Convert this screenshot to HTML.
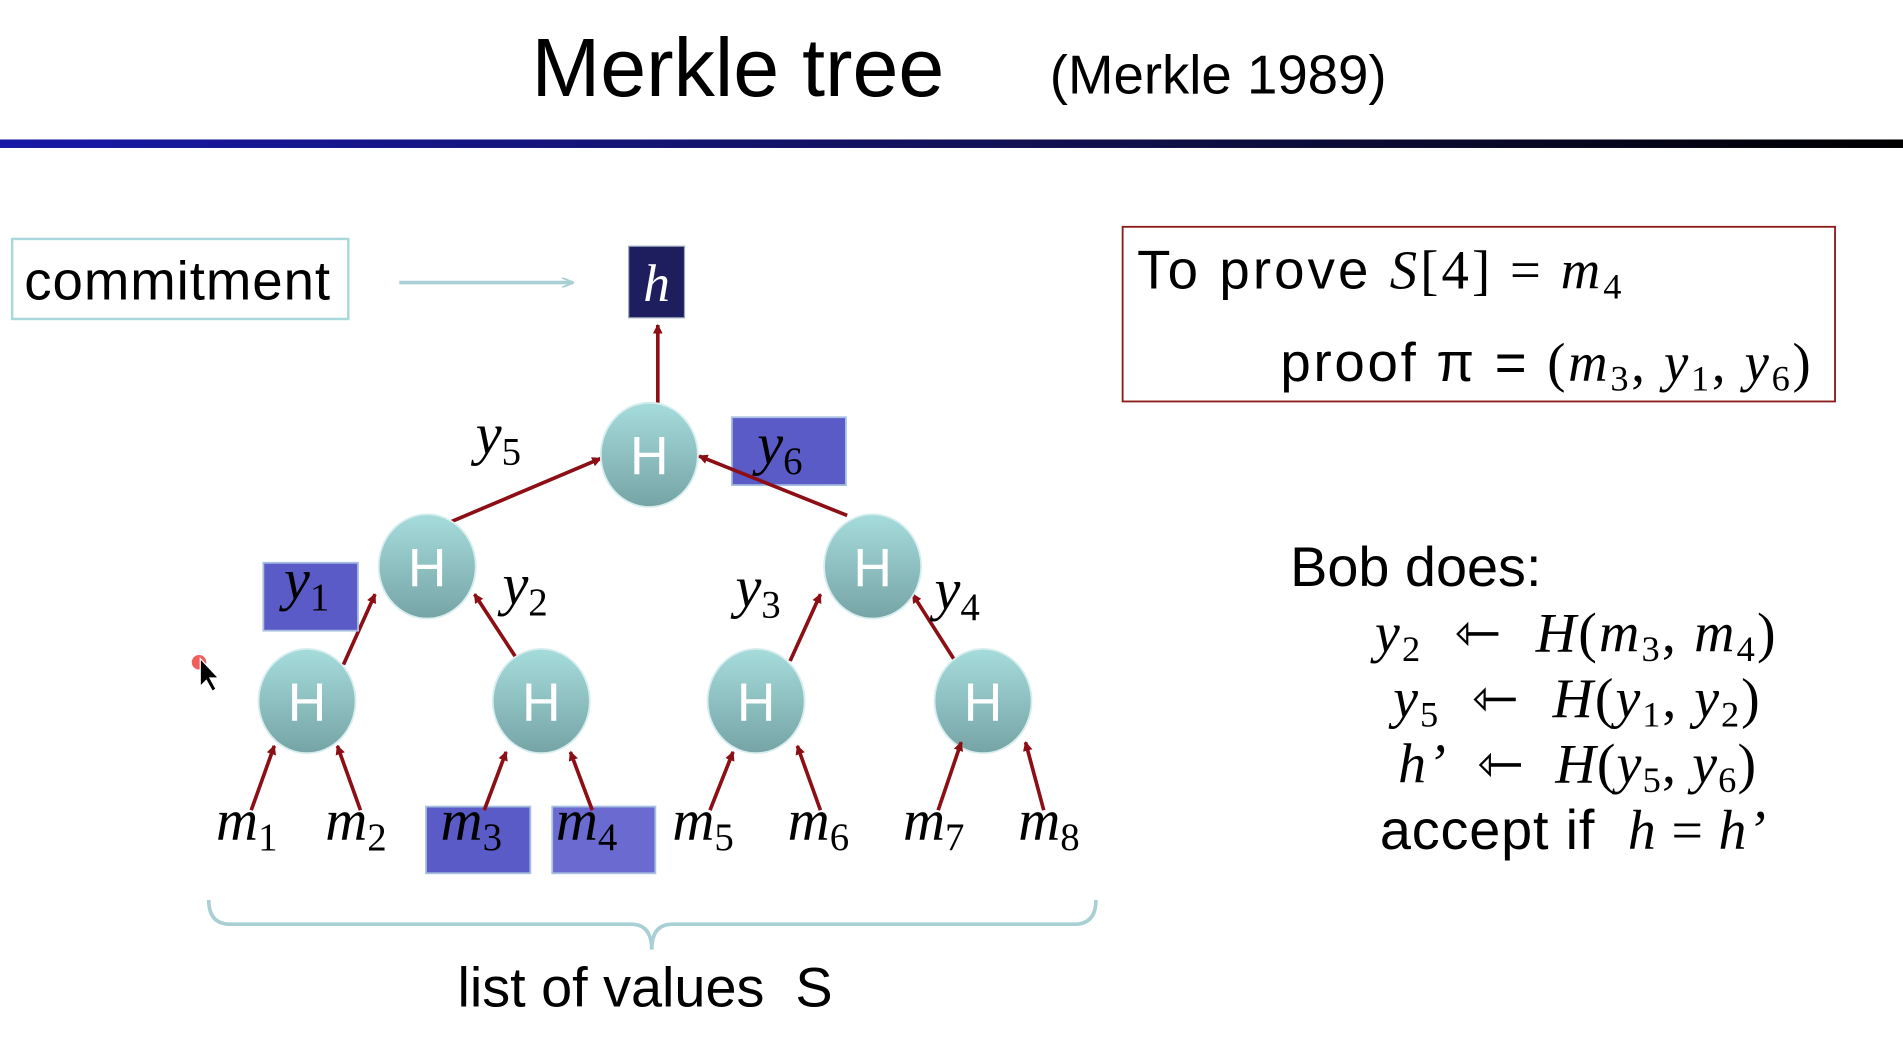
<!DOCTYPE html>
<html><head><meta charset="utf-8"><style>
html,body{margin:0;padding:0;background:#fff;}
svg{display:block;}
.s{font-family:"Liberation Sans",sans-serif;}
.m{font-family:"Liberation Serif",serif;font-style:italic;}
.n{font-family:"Liberation Serif",serif;font-style:normal;}
</style></head><body>
<svg width="1903" height="1037" viewBox="0 0 1568 855" preserveAspectRatio="none" xmlns="http://www.w3.org/2000/svg">
<defs>
<linearGradient id="bar" x1="0" x2="1" y1="0" y2="0"><stop offset="0" stop-color="#1818a8"/><stop offset="0.6" stop-color="#10104a"/><stop offset="1" stop-color="#000"/></linearGradient>
<linearGradient id="hg" x1="0" x2="0" y1="0" y2="1"><stop offset="0" stop-color="#a6dcdc"/><stop offset="1" stop-color="#76a4a6"/></linearGradient>
<marker id="ar" markerWidth="8" markerHeight="8" refX="7" refY="4" orient="auto" markerUnits="userSpaceOnUse"><path d="M0,0 L8,4 L0,8 Z" fill="#8b0f14"/></marker>
<marker id="at" markerWidth="10" markerHeight="8" refX="9" refY="4" orient="auto" markerUnits="userSpaceOnUse"><path d="M0,0 L10,4 L0,8" fill="none" stroke="#a8d0d4" stroke-width="1.5"/></marker>
</defs>
<text x="608" y="79" font-size="68" text-anchor="middle" class="s">Merkle tree</text>
<text x="865" y="77" font-size="45" class="s">(Merkle 1989)</text>
<rect x="0" y="115" width="1568" height="7" fill="url(#bar)"/>

<rect x="10" y="197" width="277" height="66" fill="none" stroke="#a8d8dc" stroke-width="2"/>
<text x="20" y="247" font-size="45" class="s" textLength="252">commitment</text>
<line x1="329" y1="233" x2="472" y2="233" stroke="#a8d0d4" stroke-width="3" marker-end="url(#at)"/>
<rect x="518" y="203" width="46" height="59" fill="#1e1e5e" stroke="#9ab" stroke-width="1"/>
<text x="541" y="248" font-size="44" fill="#fff" text-anchor="middle" class="m">h</text>

<g stroke="#8b0f14" stroke-width="3" marker-end="url(#ar)">
<line x1="542" y1="333" x2="542" y2="268"/>
<line x1="372" y1="430" x2="495" y2="378"/>
<line x1="283" y1="548" x2="309" y2="490"/>
<line x1="427" y1="545" x2="391" y2="490"/>
<line x1="651" y1="545" x2="676" y2="490"/>
<line x1="787" y1="545" x2="752" y2="490"/>
</g>

<rect x="603" y="344" width="94" height="56" fill="#5b5bc8" stroke="#a8c0e0" stroke-width="1.5"/>
<rect x="217" y="464" width="78" height="56" fill="#5b5bc8" stroke="#a8c0e0" stroke-width="1.5"/>
<rect x="351" y="665" width="86" height="55" fill="#5b5bc8" stroke="#a8c0e0" stroke-width="1.5"/>
<rect x="455" y="665" width="85" height="55" fill="#6a6ad0" stroke="#a8c0e0" stroke-width="1.5"/>
<line x1="698" y1="425" x2="576" y2="376" stroke="#8b0f14" stroke-width="3" marker-end="url(#ar)"/>

<g fill="url(#hg)" stroke="#d8eeee" stroke-width="1.5">
<ellipse cx="535" cy="375" rx="40" ry="43"/>
<ellipse cx="352" cy="467" rx="40" ry="43"/>
<ellipse cx="719" cy="467" rx="40" ry="43"/>
<ellipse cx="253" cy="578" rx="40" ry="43"/>
<ellipse cx="446" cy="578" rx="40" ry="43"/>
<ellipse cx="623" cy="578" rx="40" ry="43"/>
<ellipse cx="810" cy="578" rx="40" ry="43"/>
</g>
<g font-size="44" fill="#fff" text-anchor="middle" class="s">
<text x="535" y="391">H</text><text x="352" y="483">H</text><text x="719" y="483">H</text>
<text x="253" y="594">H</text><text x="446" y="594">H</text><text x="623" y="594">H</text><text x="810" y="594">H</text>
</g>

<g stroke="#8b0f14" stroke-width="3" marker-end="url(#ar)">
<line x1="207" y1="668" x2="226" y2="615"/>
<line x1="297" y1="668" x2="278" y2="615"/>
<line x1="399" y1="668" x2="417" y2="620"/>
<line x1="488" y1="668" x2="470" y2="620"/>
<line x1="585" y1="668" x2="604" y2="620"/>
<line x1="676" y1="668" x2="657" y2="615"/>
<line x1="773" y1="668" x2="792" y2="612"/>
<line x1="860" y1="668" x2="845" y2="612"/>
</g>

<g font-size="48" class="m">
<text x="392" y="374">y<tspan class="n" font-size="32" dy="9">5</tspan></text>
<text x="624" y="382">y<tspan class="n" font-size="32" dy="9">6</tspan></text>
<text x="234" y="494">y<tspan class="n" font-size="32" dy="9">1</tspan></text>
<text x="414" y="498">y<tspan class="n" font-size="32" dy="9">2</tspan></text>
<text x="606" y="500">y<tspan class="n" font-size="32" dy="9">3</tspan></text>
<text x="770" y="502">y<tspan class="n" font-size="32" dy="9">4</tspan></text>
<text x="178" y="692">m<tspan class="n" font-size="32" dy="9">1</tspan></text>
<text x="268" y="692">m<tspan class="n" font-size="32" dy="9">2</tspan></text>
<text x="363" y="692">m<tspan class="n" font-size="32" dy="9">3</tspan></text>
<text x="458" y="692">m<tspan class="n" font-size="32" dy="9">4</tspan></text>
<text x="554" y="692">m<tspan class="n" font-size="32" dy="9">5</tspan></text>
<text x="649" y="692">m<tspan class="n" font-size="32" dy="9">6</tspan></text>
<text x="744" y="692">m<tspan class="n" font-size="32" dy="9">7</tspan></text>
<text x="839" y="692">m<tspan class="n" font-size="32" dy="9">8</tspan></text>
</g>

<path d="M172,742 Q172,762 190,762 L520,762 Q537,762 537,783 Q537,762 554,762 L885,762 Q903,762 903,742" fill="none" stroke="#a8d0d4" stroke-width="3"/>
<text x="377" y="830" font-size="46" class="s" textLength="309">list of values&#160; S</text>

<rect x="925" y="187" width="587" height="144" fill="none" stroke="#8b1a1a" stroke-width="1.5"/>
<text x="937" y="238" font-size="45" class="s" textLength="399" lengthAdjust="spacing">To prove <tspan class="m">S</tspan><tspan class="n">[4] = </tspan> <tspan class="m">m</tspan><tspan class="n" font-size="30" dy="8">4</tspan></text>
<text x="1055" y="314" font-size="45" class="s" textLength="437" lengthAdjust="spacing">proof π = <tspan class="n">(</tspan><tspan class="m">m</tspan><tspan class="n" font-size="30" dy="8">3</tspan><tspan class="n" dy="-8">, </tspan><tspan class="m">y</tspan><tspan class="n" font-size="30" dy="8">1</tspan><tspan class="n" dy="-8">, </tspan><tspan class="m">y</tspan><tspan class="n" font-size="30" dy="8">6</tspan><tspan class="n" dy="-8">)</tspan></text>

<text x="1063" y="483" font-size="46" class="s">Bob does:</text>
<g font-size="46" class="n">
<text x="1133" y="537" textLength="330" lengthAdjust="spacing"><tspan class="m">y</tspan><tspan font-size="30" dy="8">2</tspan><tspan dy="-8">&#160; ⇽&#160; </tspan><tspan class="m">H</tspan>(<tspan class="m">m</tspan><tspan font-size="30" dy="8">3</tspan><tspan dy="-8">, </tspan><tspan class="m">m</tspan><tspan font-size="30" dy="8">4</tspan><tspan dy="-8">)</tspan></text>
<text x="1148" y="591" textLength="302" lengthAdjust="spacing"><tspan class="m">y</tspan><tspan font-size="30" dy="8">5</tspan><tspan dy="-8">&#160; ⇽&#160; </tspan><tspan class="m">H</tspan>(<tspan class="m">y</tspan><tspan font-size="30" dy="8">1</tspan><tspan dy="-8">, </tspan><tspan class="m">y</tspan><tspan font-size="30" dy="8">2</tspan><tspan dy="-8">)</tspan></text>
<text x="1152" y="645" textLength="295" lengthAdjust="spacing"><tspan class="m">h’</tspan>&#160; ⇽&#160; <tspan class="m">H</tspan>(<tspan class="m">y</tspan><tspan font-size="30" dy="8">5</tspan><tspan dy="-8">, </tspan><tspan class="m">y</tspan><tspan font-size="30" dy="8">6</tspan><tspan dy="-8">)</tspan></text>
</g>
<text x="1137" y="700" font-size="46" class="s" textLength="318" lengthAdjust="spacing">accept if&#160; <tspan class="m">h</tspan><tspan class="n"> = </tspan><tspan class="m">h’</tspan></text>

<circle cx="164" cy="546" r="6" fill="#e33" opacity="0.8"/>
<path d="M165,543 L165,566 L170,561 L175,570 L178,568 L173,559 L180,559 Z" fill="#000" stroke="#fff" stroke-width="1"/>
</svg>
</body></html>
